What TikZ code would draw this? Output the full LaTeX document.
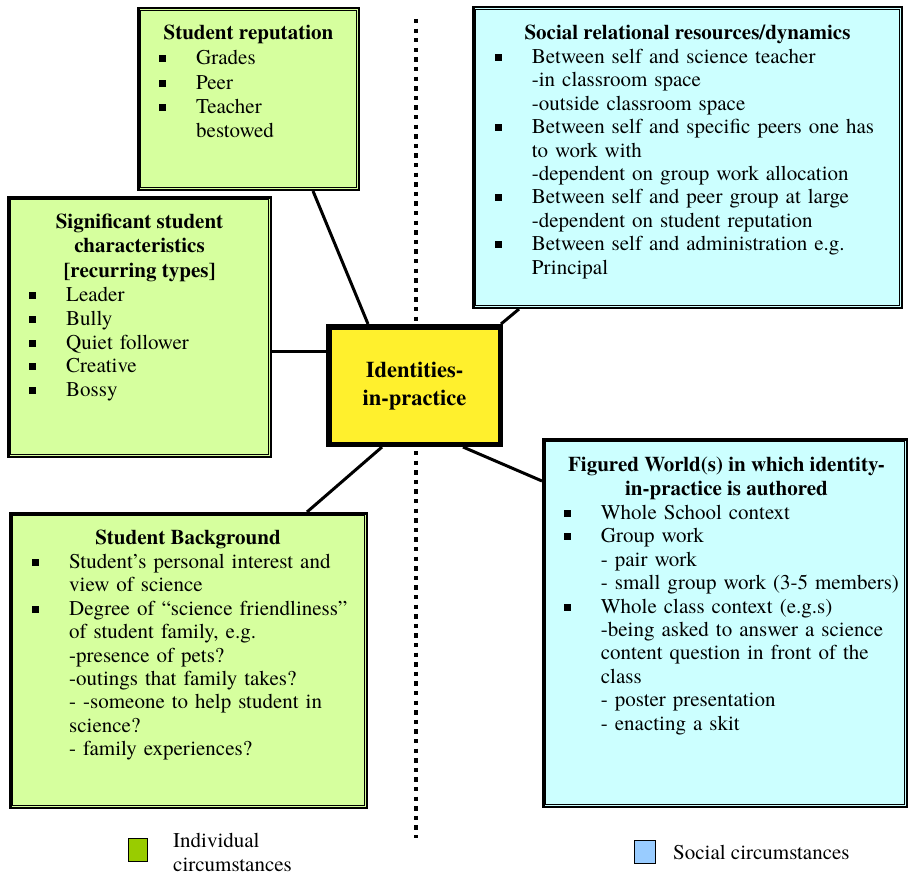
\documentclass[tikz,border=0pt]{standalone}
\usepackage{fontspec}
\setmainfont{texgyretermes}[Extension=.otf,UprightFont=*-regular,BoldFont=*-bold,ItalicFont=*-italic,BoldItalicFont=*-bolditalic]
\usetikzlibrary{calc}
\definecolor{boxgreen}{RGB}{214,255,158}
\definecolor{boxcyan}{RGB}{204,255,255}
\definecolor{boxyellow}{RGB}{255,240,45}
\definecolor{leggreen}{RGB}{153,204,0}
\definecolor{legblue}{RGB}{153,204,255}
\newcommand{\bx}{\leavevmode\llap{\rule[2.5pt]{7pt}{7pt}\hspace{30pt}}}
\tikzset{
  outerbox/.style={draw=black, line width=2.5pt, inner sep=0pt, rectangle},
  greenbox/.style={outerbox, fill=boxgreen},
  cyanbox/.style={outerbox, fill=boxcyan},
  innerline/.style={draw=black, line width=0.9pt},
  conn/.style={draw=black, line width=3pt},
  listtxt/.style={inner sep=0pt, anchor=north west, align=left, text width=400pt},
  headtxt/.style={inner sep=0pt, align=center, font=\bfseries\fontsize{21}{24}\selectfont},
  legtxt/.style={inner sep=0pt, anchor=base west, font=\fontsize{21}{24}\selectfont},
  legsq/.style={draw=black, line width=0.8pt, inner sep=0pt, minimum width=19pt, minimum height=23pt}
}
\begin{document}
\begin{tikzpicture}[x=1pt,y=-1pt]
\useasboundingbox (0,0) rectangle (910,875);
% dotted separator
\coordinate (dtop) at (416,19);
\coordinate (dbot) at (416,838);
\draw[line width=4pt, dash pattern=on 4.3pt off 5.3pt] (dtop) -- (dbot);

% boxes
\node[greenbox, minimum width=220.5pt, minimum height=181.5pt] (rep) at (248.5,99) {};
\node[greenbox, minimum width=262.5pt, minimum height=259.5pt] (sig) at (139.5,327) {};
\node[cyanbox, minimum width=428.5pt, minimum height=300.5pt] (soc) at (687.5,157.5) {};
\node[cyanbox, minimum width=363.5pt, minimum height=367.5pt] (fig) at (725,623) {};
\node[greenbox, minimum width=356.5pt, minimum height=294.5pt] (bg) at (188.5,660.5) {};
\node[draw=black, fill=boxyellow, line width=5pt, inner sep=0pt, minimum width=172pt, minimum height=118pt] (id) at (414.5,385.5) {};

% inner lines
\foreach \b in {rep,sig,soc,fig,bg}{
  \draw[innerline] ([shift={(3.3,3.3)}]\b.north west) rectangle ([shift={(-3.3,-3.3)}]\b.south east);
}
\draw[black, line width=1pt] ([shift={(5,5)}]id.north west) rectangle ([shift={(-5,-5)}]id.south east);

% connectors
\draw[conn] ([xshift=64.5]rep.south) -- ([xshift=-46.5]id.north);
\draw[conn] ([yshift=-24]sig.east) -- ([yshift=34.5]id.west);
\draw[conn] ([xshift=-168.5]soc.south) -- ([xshift=-2]id.north east);
\draw[conn] ([xshift=-32.5]id.south) -- ([xshift=118.5]bg.north);
\draw[conn] ([xshift=48.5]id.south) -- ([yshift=142]fig.west);

% centre text
\node[inner sep=0pt, anchor=north, align=center, font=\bfseries\fontsize{22.5}{28.5}\selectfont] (idtxt) at (414.5,357) {\strut Identities-\\in-practice};

% Student reputation
\node[headtxt, anchor=base] (reph) at (248.5,40) {Student reputation};
\node[listtxt, font=\fontsize{21}{24.3}\selectfont] (repl) at (196,47.5) {\strut\bx Grades\\\bx Peer\\\bx Teacher\\bestowed};

% Significant student characteristics
\node[headtxt, anchor=north, font=\bfseries\fontsize{21}{24.5}\selectfont] (sigh) at (139.5,210.9) {\strut Significant student\\characteristics\\{}[recurring types]};
\node[listtxt, font=\fontsize{21}{23.6}\selectfont] (sigl) at (66,285.2) {\strut\bx Leader\\\bx Bully\\\bx Quiet follower\\\bx Creative\\\bx Bossy};

% Social relational
\node[headtxt, anchor=base] (soch) at (687.5,40) {Social relational resources/dynamics};
\node[listtxt, font=\fontsize{21}{23.4}\selectfont] (socl) at (531.7,46.9) {\strut\bx Between self and science teacher\\-in classroom space\\-outside classroom space\\\bx Between self and specific peers one has\\to work with\\-dependent on group work allocation\\\bx Between self and peer group at large\\-dependent on student reputation\\\bx Between self and administration e.g.\\Principal};

% Figured worlds
\node[headtxt, anchor=north, font=\bfseries\fontsize{21}{23.4}\selectfont] (figh) at (726.5,455.3) {\strut Figured World(s) in which identity-\\in-practice is authored};
\node[listtxt, font=\fontsize{21}{23.4}\selectfont] (figl) at (600.7,502.9) {\strut\bx Whole School context\\\bx Group work\\- pair work\\- small group work (3-5 members)\\\bx Whole class context (e.g.s)\\-being asked to answer a science\\content question in front of the\\class\\- poster presentation\\- enacting a skit};

% Student background
\node[headtxt, anchor=base] (bgh) at (188,544.3) {Student Background};
\node[listtxt, font=\fontsize{21}{23.4}\selectfont] (bgl) at (69,551.9) {\strut\bx Student’s personal interest and\\view of science\\\bx Degree of “science friendliness”\\of student family, e.g.\\-presence of pets?\\-outings that family takes?\\- -someone to help student in\\science?\\- family experiences?};

% legend
\node[legsq, fill=leggreen] (lg) at (138,850) {};
\node[legtxt] (lgt1) at (173,847) {Individual};
\node[legtxt] (lgt2) at (173,871) {circumstances};
\node[legsq, fill=legblue, minimum width=21pt] (lb) at (645,851.5) {};
\node[legtxt] (lbt) at (673,859) {Social circumstances};
\end{tikzpicture}
\end{document}
